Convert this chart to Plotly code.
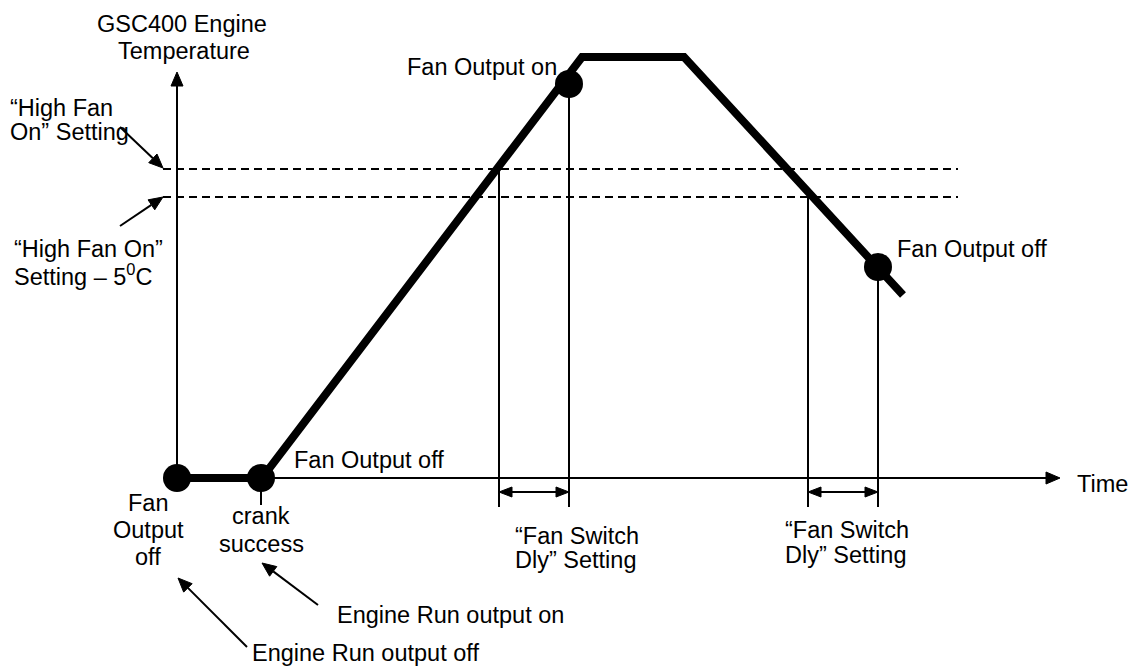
import math
import plotly.graph_objects as go

# ---- Data (diagram coordinates: x = time position, y = temperature position, page-pixel scale) ----
profile_time = [177, 262, 582, 684, 903]
profile_temp = [478, 478, 57, 57, 295]

event_time = [177, 261, 569, 878]
event_temp = [478, 478, 84, 267]

high_fan_on = 169
high_fan_on_minus5 = 197
threshold_span = [163, 958]

delay_start = [499, 808]
delay_end = [569, 878]
delay_start_top = [169, 197]
delay_end_top = [84, 267]
delay_bottom = 507
delay_arrow_level = 492

axis_origin = [177, 478]
axis_y_top = 72
axis_x_end = 1060

# label: (text, x, y, xanchor)
labels = [
    ("GSC400 Engine", 182, 24, "center"),
    ("Temperature", 184, 51, "center"),
    ("\u201cHigh Fan", 8, 108, "left"),
    ("On\u201d Setting", 8, 132, "left"),
    ("\u201cHigh Fan On\u201d", 12, 249, "left"),
    ("Setting \u2013 5<sup>0</sup>C", 12, 275, "left"),
    ("Fan", 148, 503, "center"),
    ("Output", 148, 530, "center"),
    ("off", 148, 557, "center"),
    ("crank", 261, 516, "center"),
    ("success", 261, 544, "center"),
    ("Fan Output off", 292, 460, "left"),
    ("Fan Output on", 405, 67, "left"),
    ("Fan Output off", 895, 249, "left"),
    ("\u201cFan Switch", 513, 536, "left"),
    ("Dly\u201d Setting", 513, 560, "left"),
    ("\u201cFan Switch", 783, 530, "left"),
    ("Dly\u201d Setting", 783, 555, "left"),
    ("Engine Run output on", 335, 615, "left"),
    ("Engine Run output off", 250, 653, "left"),
    ("Time", 1075, 484, "left"),
]

# pointer arrows: (tail_x, tail_y, tip_x, tip_y)
pointers = [
    (120, 127, 163, 168),
    (120, 226, 163, 197),
    (247, 647, 178, 578),
    (318, 605, 262, 563),
]

FONT = "Liberation Sans, Arial, Helvetica, sans-serif"
BLACK = "#000000"
FONT_SIZE = 23.5

fig = go.Figure()


def seg(x0, y0, x1, y1, width=2, dash=None):
    fig.add_shape(type="line", x0=x0, y0=y0, x1=x1, y1=y1, xref="x", yref="y",
                  line=dict(color=BLACK, width=width, dash=dash), layer="above")


def head(tipx, tipy, fromx, fromy, length=14, half=6):
    dx, dy = tipx - fromx, tipy - fromy
    d = math.hypot(dx, dy)
    ux, uy = dx / d, dy / d
    bx, by = tipx - ux * length, tipy - uy * length
    px, py = -uy, ux
    xs = [tipx, bx + px * half, bx - px * half, tipx]
    ys = [tipy, by + py * half, by - py * half, tipy]
    fig.add_trace(go.Scatter(x=xs, y=ys, mode="lines", fill="toself", fillcolor=BLACK,
                             line=dict(color=BLACK, width=1), hoverinfo="skip"))
    return bx, by


# axes
head(axis_origin[0], axis_y_top, axis_origin[0], axis_origin[1], length=14, half=6)
seg(axis_origin[0], axis_origin[1], axis_origin[0], axis_y_top + 10, width=2)
head(axis_x_end, axis_origin[1], axis_origin[0], axis_origin[1], length=14, half=6)
seg(axis_origin[0], axis_origin[1], axis_x_end - 10, axis_origin[1], width=2)

# thresholds
for lvl in (high_fan_on, high_fan_on_minus5):
    seg(threshold_span[0], lvl, threshold_span[1], lvl, width=2, dash="8px,5px")

# delay markers
for xs, xe, ts, te in zip(delay_start, delay_end, delay_start_top, delay_end_top):
    seg(xs, ts, xs, delay_bottom, width=2)
    seg(xe, te, xe, delay_bottom, width=2)
    head(xs, delay_arrow_level, xe, delay_arrow_level, length=13, half=5)
    head(xe, delay_arrow_level, xs, delay_arrow_level, length=13, half=5)
    seg(xs + 10, delay_arrow_level, xe - 10, delay_arrow_level, width=2)

# crank tick
seg(event_time[1], event_temp[1], event_time[1], 505, width=2)

# pointers
for tx, ty, hx, hy in pointers:
    bx, by = head(hx, hy, tx, ty, length=14, half=6)
    seg(tx, ty, bx, by, width=2)

# temperature profile
fig.add_trace(go.Scatter(x=profile_time, y=profile_temp, mode="lines",
                         line=dict(color=BLACK, width=8), hoverinfo="skip"))
# events
fig.add_trace(go.Scatter(x=event_time, y=event_temp, mode="markers",
                         marker=dict(color=BLACK, size=28, line=dict(width=0)), hoverinfo="skip"))

for text, x, y, xa in labels:
    fig.add_annotation(text=text, x=x, y=y, xref="x", yref="y", xanchor=xa, yanchor="middle",
                       showarrow=False, font=dict(family=FONT, size=FONT_SIZE, color=BLACK))

fig.update_layout(
    width=1130, height=669,
    margin=dict(l=0, r=0, t=0, b=0),
    paper_bgcolor="white", plot_bgcolor="white",
    showlegend=False,
    xaxis=dict(range=[0, 1130], visible=False, fixedrange=True),
    yaxis=dict(range=[669, 0], visible=False, fixedrange=True),
)

fig.write_html("out.html", config={"displayModeBar": False},
               post_script="document.body.style.margin='0';document.body.style.overflow='hidden';")
